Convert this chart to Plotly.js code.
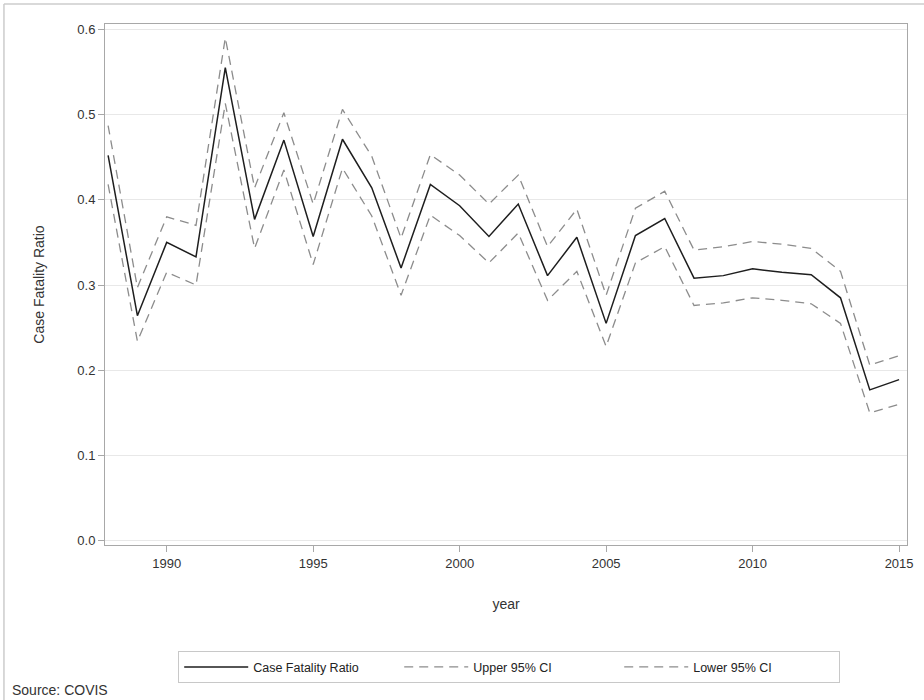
<!DOCTYPE html>
<html>
<head>
<meta charset="utf-8">
<script src="https://cdn.plot.ly/plotly-3.0.1.min.js"></script>
<style>
  html, body { margin: 0; padding: 0; background: #ffffff; }
  #chart { width: 924px; height: 700px; }
</style>
</head>
<body>
<div id="chart"></div>
<script>
const years = [1988,1989,1990,1991,1992,1993,1994,1995,1996,1997,1998,1999,2000,2001,2002,2003,2004,2005,2006,2007,2008,2009,2010,2011,2012,2013,2014,2015];
const cfr   = [0.452,0.264,0.350,0.333,0.555,0.377,0.470,0.357,0.471,0.414,0.320,0.418,0.393,0.357,0.395,0.311,0.356,0.255,0.358,0.378,0.308,0.311,0.319,0.315,0.312,0.285,0.177,0.189];
const upper = [0.487,0.297,0.380,0.370,0.590,0.414,0.502,0.395,0.506,0.451,0.355,0.453,0.429,0.395,0.429,0.345,0.389,0.288,0.390,0.410,0.341,0.345,0.351,0.348,0.343,0.316,0.206,0.217];
const lower = [0.418,0.234,0.315,0.300,0.513,0.343,0.435,0.324,0.437,0.381,0.288,0.382,0.358,0.326,0.361,0.282,0.316,0.228,0.326,0.345,0.276,0.279,0.285,0.282,0.278,0.255,0.150,0.160];
const xTicks = [1990,1995,2000,2005,2010,2015];
const yTicks = [0.0,0.1,0.2,0.3,0.4,0.5,0.6];
const yTickText = ['0.0','0.1','0.2','0.3','0.4','0.5','0.6'];

const font = 'Liberation Sans, Arial, sans-serif';

const traces = [
  {x: years, y: cfr, name: 'Case Fatality Ratio', mode: 'lines',
   line: {color: '#1e1e1e', width: 1.5}},
  {x: years, y: upper, name: 'Upper 95% CI', mode: 'lines',
   line: {color: '#8c8c8c', width: 1.3, dash: '9px,6px'}},
  {x: years, y: lower, name: 'Lower 95% CI', mode: 'lines',
   line: {color: '#8c8c8c', width: 1.3, dash: '9px,6px'}}
];

const layout = {
  width: 924, height: 700,
  margin: {l: 105, r: 17, t: 24, b: 155},
  paper_bgcolor: '#ffffff', plot_bgcolor: '#ffffff',
  font: {family: font, size: 13, color: '#333333'},
  showlegend: true,
  legend: {orientation: 'h', x: 0.504, xanchor: 'center', y: -0.204, yanchor: 'top',
           bordercolor: '#c8c8c8', borderwidth: 1, font: {size: 12.5, color: '#222'},
           itemwidth: 64, entrywidth: 141, entrywidthmode: 'pixels', tracegroupgap: 0},
  xaxis: {
    range: [1987.894, 2015.27], tickvals: xTicks, ticktext: xTicks.map(String),
    ticks: 'outside', ticklen: 6, tickcolor: '#a8a8a8', tickwidth: 1,
    showgrid: false, zeroline: false, showline: true, linecolor: '#a8a8a8', linewidth: 1,
    mirror: true,
    tickfont: {size: 13, color: '#333'},
    title: {text: 'year', font: {size: 14, color: '#333'}, standoff: 29}
  },
  yaxis: {
    range: [-0.005, 0.6062], tickvals: yTicks, ticktext: yTickText,
    ticks: 'outside', ticklen: 6, tickcolor: '#a8a8a8', tickwidth: 1,
    showgrid: true, gridcolor: '#e8e8e8', gridwidth: 1.2, zeroline: false,
    showline: true, linecolor: '#a8a8a8', linewidth: 1, mirror: true,
    tickfont: {size: 13, color: '#333'},
    title: {text: 'Case Fatality Ratio', font: {size: 14, color: '#333'}, standoff: 29}
  },
  annotations: [
    {text: 'Source: COVIS', xref: 'paper', yref: 'paper', x: -0.118, y: -0.278,
     xanchor: 'left', yanchor: 'middle', showarrow: false, font: {size: 14, color: '#333'}}
  ],
  shapes: [
    {type: 'line', xref: 'paper', yref: 'paper', x0: -0.126, x1: 1.03, y0: 1.0384, y1: 1.0384,
     line: {color: '#cccccc', width: 1.5}},
    {type: 'line', xref: 'paper', yref: 'paper', x0: -0.126, x1: -0.126, y0: 1.0384, y1: -0.3,
     line: {color: '#cccccc', width: 1.5}}
  ]
};

Plotly.newPlot('chart', traces, layout, {displayModeBar: false, responsive: false});
</script>
</body>
</html>
